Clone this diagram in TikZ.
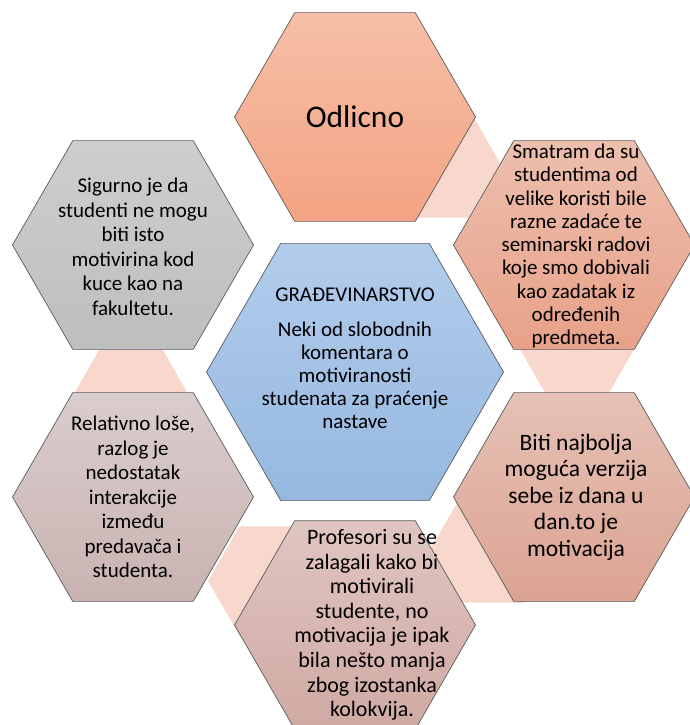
\documentclass[tikz,border=0pt]{standalone}
\usepackage{fontspec}
\setmainfont{Carlito}
\usetikzlibrary{shapes.geometric}
\definecolor{edgegray}{RGB}{90,90,90}
\definecolor{linkpink}{RGB}{248,216,205}
\definecolor{centertop}{RGB}{178,204,236}
\definecolor{centerbot}{RGB}{150,184,224}

\begin{document}
\begin{tikzpicture}[
    x=1pt, y=-1pt,
    hexbox/.style={regular polygon, regular polygon sides=6, draw=edgegray, line width=0.7pt, minimum size=241pt, inner sep=0pt},
    linkhex/.style={regular polygon, regular polygon sides=6, fill=linkpink, minimum size=126pt, inner sep=0pt},
    hextext/.style={align=center, inner sep=0pt, font=\fontsize{21}{24.5}\selectfont}
]
\useasboundingbox (0,0) rectangle (689,725);

% Links between the outer hexagons
\node[linkhex] (link1) at (437,163) {};
\node[linkhex] (link2) at (577,339) {};
\node[linkhex] (link3) at (494,548) {};
\node[linkhex] (link4) at (271,581) {};
\node[linkhex] (link5) at (131,404) {};

% Outer hexagons
\node[hexbox, top color={rgb,255:red,246;green,191;blue,167}, bottom color={rgb,255:red,243;green,163;blue,131}] (odlicno) at (355,117) {};
\node[hexbox, top color={rgb,255:red,237;green,191;blue,174}, bottom color={rgb,255:red,232;green,161;blue,137}] (smatram) at (574,245) {};
\node[hexbox, top color={rgb,255:red,229;green,193;blue,181}, bottom color={rgb,255:red,220;green,163;blue,147}] (biti) at (574,497) {};
\node[hexbox, top color={rgb,255:red,224;green,197;blue,193}, bottom color={rgb,255:red,208;green,169;blue,163}] (profesori) at (355,625) {};
\node[hexbox, top color={rgb,255:red,218;green,205;blue,205}, bottom color={rgb,255:red,200;green,179;blue,177}] (relativno) at (133,497) {};
\node[hexbox, top color={rgb,255:red,206;green,206;blue,206}, bottom color={rgb,255:red,190;green,190;blue,190}] (sigurno) at (133,245) {};

% Center
\node[hexbox, minimum size=297pt, top color=centertop, bottom color=centerbot] (center) at (355,372) {};

% Texts
\node[hextext, font=\fontsize{31.5}{36}\selectfont] (odlicnotext) at (355,117) {Odlicno};
\node[hextext, font=\fontsize{21}{23.3}\selectfont] (smatramtext) at (576,246)
    {Smatram da su\\studentima od\\velike koristi bile\\razne zadaće te\\seminarski radovi\\koje smo dobivali\\kao zadatak iz\\određenih\\predmeta.};
\node[hextext, font=\fontsize{23.5}{26.5}\selectfont] (bititext) at (576,497)
    {Biti najbolja\\moguća verzija\\sebe iz dana u\\dan.to je\\motivacija};
\node[hextext, font=\fontsize{22}{24.6}\selectfont] (profesoritext) at (372,625)
    {Profesori su se\\zalagali kako bi\\motivirali\\studente, no\\motivacija je ipak\\bila nešto manja\\zbog izostanka\\kolokvija.};
\node[hextext] (relativnotext) at (133,497)
    {Relativno loše,\\razlog je\\nedostatak\\interakcije\\između\\predavača i\\studenta.};
\node[hextext] (sigurnotext) at (133,247)
    {Sigurno je da\\studenti ne mogu\\biti isto\\motivirina kod\\kuce kao na\\fakultetu.};
\node[hextext, font=\fontsize{21}{23}\selectfont] (centertext) at (355,358)
    {GRAĐEVINARSTVO\\[12pt]Neki od slobodnih\\komentara o\\motiviranosti\\studenata za praćenje\\nastave};

\end{tikzpicture}
\end{document}
